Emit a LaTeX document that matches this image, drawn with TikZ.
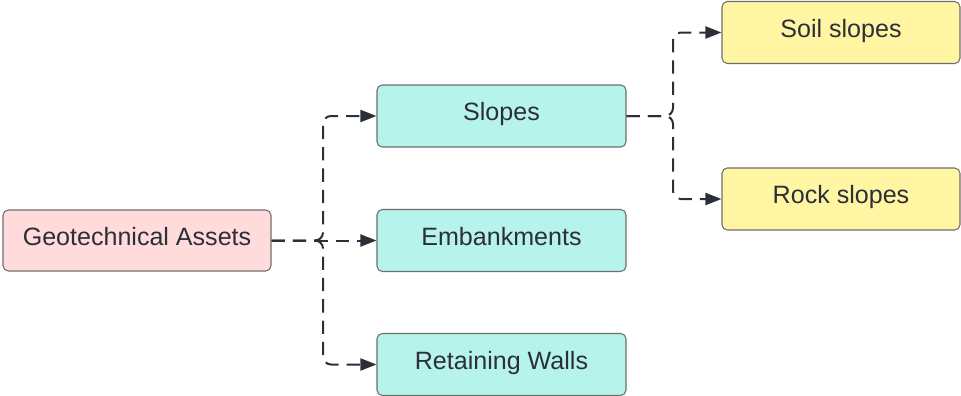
\documentclass[tikz,border=0pt]{standalone}
\usepackage{fontspec}
\setmainfont{Liberation Sans}
\usetikzlibrary{arrows.meta}
\definecolor{rootfill}{HTML}{FFDBDB}
\definecolor{midfill}{HTML}{B6F3EA}
\definecolor{leaffill}{HTML}{FFF5A3}
\definecolor{edgegray}{HTML}{6E6E6E}
\definecolor{inkdark}{HTML}{2B2F38}
\begin{document}
\begin{tikzpicture}[x=0.75pt,y=-0.75pt,
  box/.style={draw=edgegray,line width=0.8pt,rounded corners=4pt,
    text=inkdark,font=\fontsize{18.8}{22}\selectfont,inner sep=0pt,
    text height=14pt,text depth=6.6pt},
  rootbox/.style={box,fill=rootfill,minimum width=201pt,minimum height=45.75pt},
  midbox/.style={box,fill=midfill,minimum width=186.75pt,minimum height=46.5pt},
  leafbox/.style={box,fill=leaffill,minimum width=178.5pt,minimum height=46.5pt},
  link/.style={draw=inkdark,line width=1.5pt,dash pattern=on 10pt off 6pt,
    rounded corners=6pt,-{Triangle[length=12pt,width=9pt]}}]
\useasboundingbox (0,0) rectangle (961,396);
\node[rootbox] (geo) at (137,240.5) {Geotechnical Assets};
\node[midbox] (slopes) at (501.5,116) {Slopes};
\node[midbox] (emb) at (501.5,240.5) {Embankments};
\node[midbox] (walls) at (501.5,364.5) {Retaining Walls};
\node[leafbox] (soil) at (841,32.5) {Soil slopes};
\node[leafbox] (rock) at (841,199) {Rock slopes};
\coordinate (j1) at (323,240.5);
\coordinate (j2) at (673,116);
\draw[link] (geo.east) -- (j1) |- (slopes.west);
\draw[link] (geo.east) -- (emb.west);
\draw[link] (geo.east) -- (j1) |- (walls.west);
\draw[link] (slopes.east) -- (j2) |- (soil.west);
\draw[link] (slopes.east) -- (j2) |- (rock.west);
\end{tikzpicture}
\end{document}
